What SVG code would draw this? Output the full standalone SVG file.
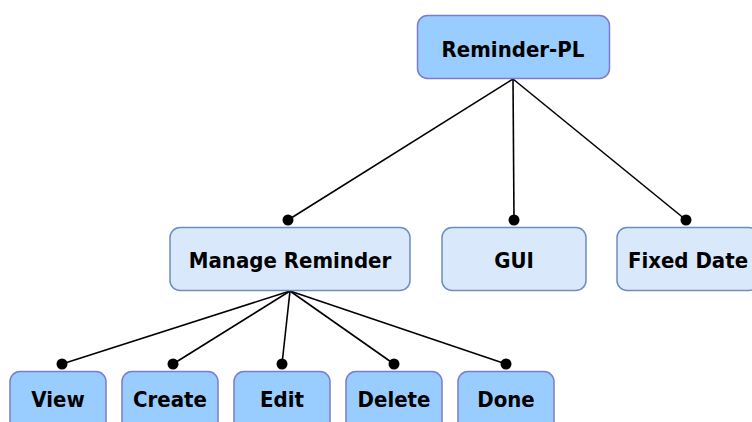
<svg xmlns="http://www.w3.org/2000/svg" width="752" height="422" viewBox="0 0 752 422">
<style>
.a{fill:#99ccff;stroke:#7b7bd1;stroke-width:1.5}
.b{fill:#dae8fc;stroke:#6c8ebf;stroke-width:1.5}
text{font-family:"DejaVu Sans Condensed","DejaVu Sans",Verdana,sans-serif;font-stretch:condensed;font-weight:bold;font-size:22px;text-anchor:middle;fill:#000}
.e line{stroke:#000;stroke-width:1.6}
.e circle{fill:#000}
</style>
<rect width="752" height="422" fill="#fff"/>
<g id="connectors" class="e">
<line x1="513" y1="79" x2="288" y2="220"/>
<line x1="513" y1="79" x2="514" y2="220"/>
<line x1="513" y1="79" x2="686" y2="220"/>
<line x1="290" y1="291" x2="62" y2="364"/>
<line x1="290" y1="291" x2="173" y2="364"/>
<line x1="290" y1="291" x2="282" y2="364"/>
<line x1="290" y1="291" x2="394" y2="364"/>
<line x1="290" y1="291" x2="506" y2="364"/>
<circle cx="288" cy="220" r="5.5"/>
<circle cx="514" cy="220" r="5.5"/>
<circle cx="686" cy="220" r="5.5"/>
<circle cx="62" cy="364" r="5.5"/>
<circle cx="173" cy="364" r="5.5"/>
<circle cx="282" cy="364" r="5.5"/>
<circle cx="394" cy="364" r="5.5"/>
<circle cx="506" cy="364" r="5.5"/>
</g>
<g id="reminder-pl"><rect class="a" x="417.5" y="15.5" width="192" height="63" rx="10"/><text x="513" y="57">Reminder-PL</text></g>
<g id="manage-reminder"><rect class="b" x="170" y="227.5" width="240" height="63" rx="10"/><text x="290" y="268">Manage Reminder</text></g>
<g id="gui"><rect class="b" x="442" y="227.5" width="144" height="63" rx="10"/><text x="514" y="268">GUI</text></g>
<g id="fixed-date"><rect class="b" x="617" y="227.5" width="142" height="63" rx="10"/><text x="688" y="268">Fixed Date</text></g>
<g id="view"><rect class="a" x="10" y="371.5" width="96" height="63" rx="10"/><text x="58" y="407">View</text></g>
<g id="create"><rect class="a" x="122" y="371.5" width="96" height="63" rx="10"/><text x="170" y="407">Create</text></g>
<g id="edit"><rect class="a" x="234" y="371.5" width="96" height="63" rx="10"/><text x="282" y="407">Edit</text></g>
<g id="delete"><rect class="a" x="346" y="371.5" width="96" height="63" rx="10"/><text x="394" y="407">Delete</text></g>
<g id="done"><rect class="a" x="458" y="371.5" width="96" height="63" rx="10"/><text x="506" y="407">Done</text></g>
</svg>
